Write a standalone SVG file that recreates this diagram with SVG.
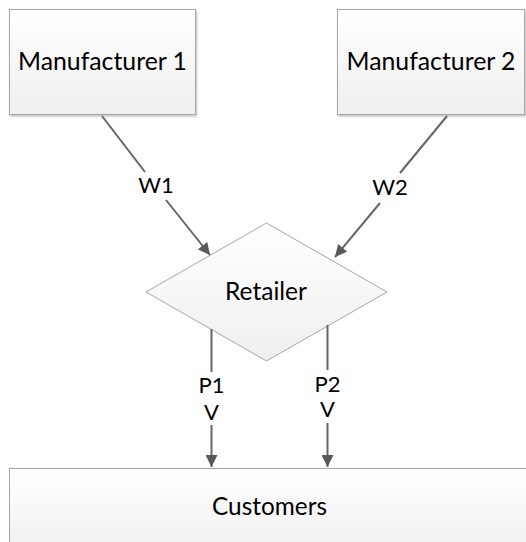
<svg xmlns="http://www.w3.org/2000/svg" width="526" height="542" viewBox="0 0 526 542">
  <style>
    .shape { stroke: #a6a6a6; stroke-width: 1; fill: url(#fillGrad); }
    .label { font-family: Lato, "Open Sans", "Liberation Sans", sans-serif; fill: #000; text-anchor: middle; }
    .big { font-size: 25px; }
    .small { font-size: 22px; }
    .edge { stroke: #656565; stroke-width: 2; fill: none; }
  </style>
  <defs>
    <linearGradient id="fillGrad" x1="0" y1="0" x2="0" y2="1">
      <stop offset="0" stop-color="#ffffff"/>
      <stop offset="1" stop-color="#efefef"/>
    </linearGradient>
    <filter id="shadow" x="-5%" y="-5%" width="110%" height="115%">
      <feDropShadow dx="1" dy="1.5" stdDeviation="0.8" flood-color="#000" flood-opacity="0.25"/>
    </filter>
    <marker id="arrow" viewBox="0 0 10 10" refX="10" refY="5" markerWidth="6" markerHeight="6" markerUnits="strokeWidth" orient="auto">
      <path d="M0,0 L10,5 L0,10 Z" fill="#595959"/>
    </marker>
  </defs>

  <g id="manufacturer1">
    <rect class="shape" x="9.5" y="9.5" width="186" height="105" filter="url(#shadow)"/>
    <text class="label big" x="102.5" y="70" textLength="169" lengthAdjust="spacingAndGlyphs">Manufacturer 1</text>
  </g>

  <g id="manufacturer2">
    <rect class="shape" x="337.5" y="9.5" width="187" height="105" filter="url(#shadow)"/>
    <text class="label big" x="431" y="70" textLength="169" lengthAdjust="spacingAndGlyphs">Manufacturer 2</text>
  </g>

  <g id="retailer">
    <polygon class="shape" points="266.5,223 387,292 266.5,361 146,292"/>
    <text class="label big" x="266" y="300" textLength="82" lengthAdjust="spacingAndGlyphs">Retailer</text>
  </g>

  <g id="customers">
    <rect class="shape" x="9.5" y="468.5" width="530" height="90"/>
    <text class="label big" x="269.5" y="515" textLength="115" lengthAdjust="spacingAndGlyphs">Customers</text>
  </g>

  <g id="connectors">
    <path class="edge" d="M102,116 L145,172"/>
    <path class="edge" d="M166,200 L210,255" marker-end="url(#arrow)"/>
    <text class="label small" x="156" y="193">W1</text>

    <path class="edge" d="M447,116 L400,173"/>
    <path class="edge" d="M380,203 L335,257" marker-end="url(#arrow)"/>
    <text class="label small" x="390" y="195">W2</text>

    <path class="edge" d="M211.5,329 L211.5,372"/>
    <path class="edge" d="M211.5,425 L211.5,467" marker-end="url(#arrow)"/>
    <text class="label small" x="211.5" y="393">P1</text>
    <text class="label small" x="211.5" y="420">V</text>

    <path class="edge" d="M327.5,325 L327.5,370"/>
    <path class="edge" d="M327.5,423 L327.5,467" marker-end="url(#arrow)"/>
    <text class="label small" x="327.5" y="392">P2</text>
    <text class="label small" x="327.5" y="417">V</text>
  </g>
</svg>
